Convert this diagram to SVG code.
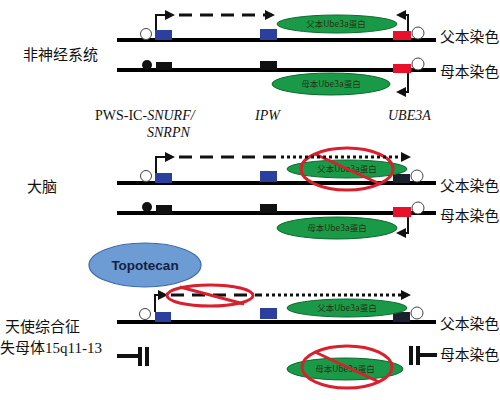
<svg xmlns="http://www.w3.org/2000/svg" width="500" height="400" viewBox="0 0 500 400">
<defs>
<style>
.chrom{stroke:#000;stroke-width:4;fill:none}
.lbl{font-family:"Liberation Serif","Noto Sans CJK SC",serif;font-size:15px;fill:#111}
.rl{font-family:"Liberation Serif","Noto Sans CJK SC",serif;font-size:14.8px;fill:#111}
.gene{font-family:"Liberation Serif","Noto Sans CJK SC",serif;font-size:14px;fill:#111}
.it{font-style:italic}
.prot{fill:#1a9a48;stroke:#0b6a2e;stroke-width:1}
.ptxt{font-family:"Noto Sans CJK SC","Liberation Sans",sans-serif;font-size:8.5px;fill:#24320f;text-anchor:middle}
.blue{fill:#2b3f9e}
.red{fill:#e8102a}
.blk{fill:#111}
.dark{fill:#1c1f2e}
.open{fill:#fff;stroke:#444;stroke-width:1}
.no{fill:none;stroke:#d8202e;stroke-width:3}
.arr{fill:none;stroke:#111;stroke-width:2}
.dash{fill:none;stroke:#111;stroke-width:3;stroke-dasharray:13 8}
.dot{fill:none;stroke:#111;stroke-width:3;stroke-dasharray:3 3}
.bar{stroke:#111;stroke-width:4;fill:none}
</style>
<marker id="ah" markerUnits="userSpaceOnUse" markerWidth="11" markerHeight="10" refX="0" refY="5" orient="auto">
<path d="M0,0 L10,5 L0,10 z" fill="#111"/>
</marker>
</defs>
<rect width="500" height="400" fill="#fff"/>

<!-- labels -->
<g id="labels">
<text class="lbl" x="23" y="60">非神经系统</text>
<text class="lbl" x="27" y="192">大脑</text>
<text class="lbl" x="5" y="332">天使综合征</text>
<text class="lbl" x="0" y="353">失母体15q11-13</text>
<text class="gene" x="95" y="120">PWS-IC-<tspan class="it">SNURF/</tspan></text>
<text class="gene it" x="147" y="137">SNRPN</text>
<text class="gene it" x="255" y="120">IPW</text>
<text class="gene it" x="388" y="120">UBE3A</text>
<text class="rl" x="440" y="42">父本染色</text>
<text class="rl" x="440" y="77">母本染色</text>
<text class="rl" x="440" y="191">父本染色</text>
<text class="rl" x="440" y="221">母本染色</text>
<text class="rl" x="440" y="329">父本染色</text>
<text class="rl" x="440" y="360">母本染色</text>
</g>

<!-- panel 1 -->
<g id="p1-paternal">
<line class="chrom" x1="117" y1="40" x2="436" y2="40"/>
<circle class="open" cx="146" cy="34" r="5.5"/>
<rect class="blue" x="155" y="30" width="17" height="10"/>
<rect class="blue" x="260" y="29" width="17" height="11"/>
<rect class="red" x="393" y="31" width="18" height="9"/>
<circle class="open" cx="418" cy="33" r="6"/>
</g>
<g id="p1-paternal-protein">
<ellipse class="prot" cx="337" cy="24" rx="60" ry="9"/>
<text class="ptxt" x="336" y="27">父本Ube3a蛋白</text>
</g>
<g id="p1-maternal">
<line class="chrom" x1="117" y1="70" x2="436" y2="70"/>
<circle class="blk" cx="147" cy="65" r="5"/>
<rect class="blk" x="156" y="62" width="16" height="8"/>
<rect class="blk" x="260" y="61" width="17" height="9"/>
<rect class="red" x="393" y="64" width="18" height="9"/>
<circle class="open" cx="418" cy="64" r="6"/>
</g>
<g id="p1-maternal-protein">
<ellipse class="prot" cx="331" cy="84" rx="59" ry="11"/>
<text class="ptxt" x="331" y="87">母本Ube3a蛋白</text>
</g>

<!-- panel 2 -->
<g id="p2-paternal">
<line class="chrom" x1="117" y1="183" x2="436" y2="183"/>
<circle class="open" cx="146" cy="176" r="5.5"/>
<rect class="blue" x="155" y="173" width="17" height="10"/>
<rect class="blue" x="260" y="171" width="17" height="11"/>
<rect class="dark" x="393" y="174" width="17" height="9"/>
<circle class="open" cx="417" cy="176" r="6"/>
</g>
<g id="p2-paternal-protein">
<ellipse class="prot" cx="347" cy="169" rx="60" ry="9"/>
<text class="ptxt" x="347" y="172">父本Ube3a蛋白</text>
<ellipse class="no" cx="347" cy="169" rx="46" ry="21"/>
<line class="no" x1="315" y1="154" x2="380" y2="184"/>
</g>
<g id="p2-maternal">
<line class="chrom" x1="117" y1="213" x2="436" y2="213"/>
<circle class="blk" cx="147" cy="207" r="5"/>
<rect class="blk" x="156" y="205" width="16" height="9"/>
<rect class="blk" x="260" y="204" width="17" height="9"/>
<rect class="red" x="393" y="207" width="18" height="10"/>
<circle class="open" cx="418" cy="208" r="6"/>
</g>
<g id="p2-maternal-protein">
<ellipse class="prot" cx="337" cy="228" rx="60" ry="11"/>
<text class="ptxt" x="337" y="231">母本Ube3a蛋白</text>
</g>

<!-- panel 3 -->
<g id="topotecan">
<ellipse cx="145" cy="265" rx="56" ry="22" fill="#6d9bd3" stroke="#3c6aa8" stroke-width="1.2"/>
<text x="145" y="270" text-anchor="middle" font-family="'Liberation Sans',sans-serif" font-weight="bold" font-size="13.5" fill="#16213f">Topotecan</text>
</g>
<g id="p3-paternal">
<line class="chrom" x1="117" y1="322" x2="436" y2="322"/>
<circle class="open" cx="145" cy="314" r="5.5"/>
<rect class="blue" x="155" y="312" width="16" height="10"/>
<rect class="blue" x="260" y="308" width="17" height="11"/>
<rect class="dark" x="393" y="312" width="17" height="10"/>
<circle class="open" cx="417" cy="313" r="6"/>
</g>
<g id="p3-paternal-protein">
<ellipse class="prot" cx="347" cy="308" rx="60" ry="9"/>
<text class="ptxt" x="347" y="311">父本Ube3a蛋白</text>
</g>
<g id="p3-maternal">
<line class="bar" x1="117" y1="356" x2="138" y2="356"/>
<line class="bar" x1="140" y1="347" x2="140" y2="366"/>
<line class="bar" x1="147" y1="347" x2="147" y2="366"/>
<line class="bar" x1="411" y1="346" x2="411" y2="365"/>
<line class="bar" x1="418" y1="346" x2="418" y2="365"/>
<line class="bar" x1="418" y1="355" x2="437" y2="355"/>
</g>
<g id="p3-maternal-protein">
<ellipse class="prot" cx="345" cy="369" rx="58" ry="11"/>
<text class="ptxt" x="345" y="372">母本Ube3a蛋白</text>
<ellipse class="no" cx="347" cy="367" rx="45" ry="21"/>
<line class="no" x1="315" y1="352" x2="379" y2="382"/>
</g>

<!-- connectors -->
<g id="connectors">
<path class="arr" d="M156,30 V15 H165" marker-end="url(#ah)"/>
<path class="dash" d="M179,15 H265" marker-end="url(#ah)"/>
<path class="arr" d="M408,31 V15 H406" marker-end="url(#ah)"/>
<path class="arr" d="M408,73 V92 H406" marker-end="url(#ah)"/>

<path class="arr" d="M156,173 V157 H165" marker-end="url(#ah)"/>
<path class="dash" d="M179,157 H277"/>
<path class="dot" d="M281,157 H401" marker-end="url(#ah)"/>
<path class="arr" d="M408,217 V233 H406" marker-end="url(#ah)"/>

<path class="arr" d="M155,312 V295 H158" marker-end="url(#ah)"/>
<path class="dash" d="M171,295 H262"/>
<path class="dot" d="M266,295 H401" marker-end="url(#ah)"/>
<ellipse class="no" cx="210" cy="295.5" rx="43" ry="10.5"/>
<line class="no" x1="180" y1="287" x2="244" y2="304"/>
</g>
</svg>
